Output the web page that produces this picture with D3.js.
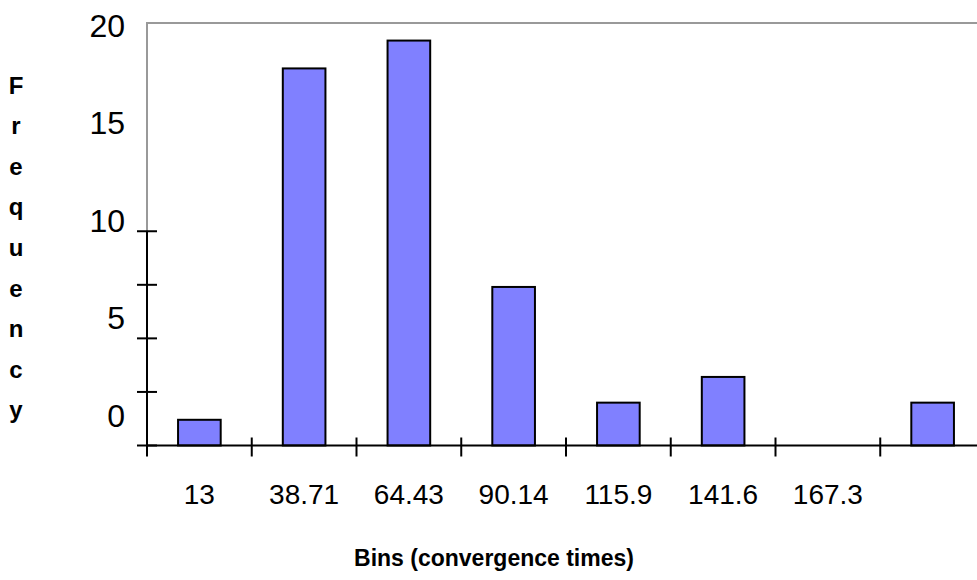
<!DOCTYPE html>
<html>
<head>
<meta charset="utf-8">
<script src="https://cdn.jsdelivr.net/npm/d3@7"></script>
<style>
  body { margin: 0; background: #fff; }
  svg { display: block; }
  text { font-family: "Liberation Sans", Arial, Helvetica, sans-serif; fill: #000; }
</style>
</head>
<body>
<svg id="chart" width="977" height="580"></svg>
<script>
// Histogram of convergence times (Excel-style frequency chart)
const bins = ["13", "38.71", "64.43", "90.14", "115.9", "141.6", "167.3", "More"];
const binLabels = ["13", "38.71", "64.43", "90.14", "115.9", "141.6", "167.3", ""];
const frequency = [1.2, 17.6, 18.9, 7.4, 2.0, 3.2, 0, 2.0];
const yTickValues = [0, 2.5, 5, 7.5, 10];
const yLabelValues = [0, 5, 10, 15, 20];
const yTitle = "Frequency";
const xTitle = "Bins (convergence times)";

const svg = d3.select("#chart");

const plot = { left: 147, top: 23, right: 985, bottom: 445.5 };

const x = d3.scaleBand()
  .domain(bins)
  .range([plot.left, plot.right])
  .paddingInner(0.593)
  .paddingOuter(0.2965);

const y = d3.scaleLinear()
  .domain([0, 20])
  .range([plot.bottom, 17]);

// value labels sit on their own spacing along the axis
const yLabelPos = d3.scaleLinear()
  .domain([0, 20])
  .range([415, 25]);

// plot-area frame (top and upper left edge)
svg.append("path")
  .attr("d", `M${plot.left},${y(10)}V${plot.top}H977`)
  .attr("fill", "none")
  .attr("stroke", "#999")
  .attr("stroke-width", 2);

// bars
svg.append("g")
  .selectAll("rect")
  .data(frequency)
  .join("rect")
  .attr("x", (d, i) => x(bins[i]))
  .attr("width", x.bandwidth())
  .attr("y", d => y(d))
  .attr("height", d => y(0) - y(d))
  .attr("fill", d => d > 0 ? "#8080ff" : "none")
  .attr("stroke", d => d > 0 ? "#000" : "none")
  .attr("stroke-width", 2);

// y axis line and ticks
svg.append("line")
  .attr("x1", plot.left).attr("x2", plot.left)
  .attr("y1", y(10)).attr("y2", y(0))
  .attr("stroke", "#000").attr("stroke-width", 2);

svg.append("g")
  .selectAll("line")
  .data(yTickValues)
  .join("line")
  .attr("x1", plot.left - 10).attr("x2", plot.left + 10)
  .attr("y1", d => y(d)).attr("y2", d => y(d))
  .attr("stroke", "#000").attr("stroke-width", 2);

// x axis line and ticks at bin boundaries
svg.append("line")
  .attr("x1", plot.left).attr("x2", 977)
  .attr("y1", y(0)).attr("y2", y(0))
  .attr("stroke", "#000").attr("stroke-width", 2);

svg.append("g")
  .selectAll("line")
  .data(bins)
  .join("line")
  .attr("x1", d => x(d) - (x.step() - x.bandwidth()) / 2)
  .attr("x2", d => x(d) - (x.step() - x.bandwidth()) / 2)
  .attr("y1", y(0) - 8).attr("y2", y(0) + 11)
  .attr("stroke", "#000").attr("stroke-width", 2);

// y value labels
svg.append("g")
  .selectAll("text")
  .data(yLabelValues)
  .join("text")
  .attr("x", 125)
  .attr("y", d => yLabelPos(d))
  .attr("dy", "0.36em")
  .attr("text-anchor", "end")
  .attr("font-size", 32)
  .text(d => d);

// x bin labels
svg.append("g")
  .selectAll("text")
  .data(bins)
  .join("text")
  .attr("x", d => x(d) + x.bandwidth() / 2)
  .attr("y", 504)
  .attr("text-anchor", "middle")
  .attr("font-size", 28)
  .text((d, i) => binLabels[i]);

// stacked y title
svg.append("g")
  .selectAll("text")
  .data(yTitle.split(""))
  .join("text")
  .attr("x", 16)
  .attr("y", (d, i) => 85 + i * 40.6)
  .attr("dy", "0.36em")
  .attr("text-anchor", "middle")
  .attr("font-size", 24)
  .attr("font-weight", "bold")
  .text(d => d);

// x title
svg.append("text")
  .attr("x", 494)
  .attr("y", 566)
  .attr("text-anchor", "middle")
  .attr("font-size", 23)
  .attr("font-weight", "bold")
  .text(xTitle);
</script>
</body>
</html>
